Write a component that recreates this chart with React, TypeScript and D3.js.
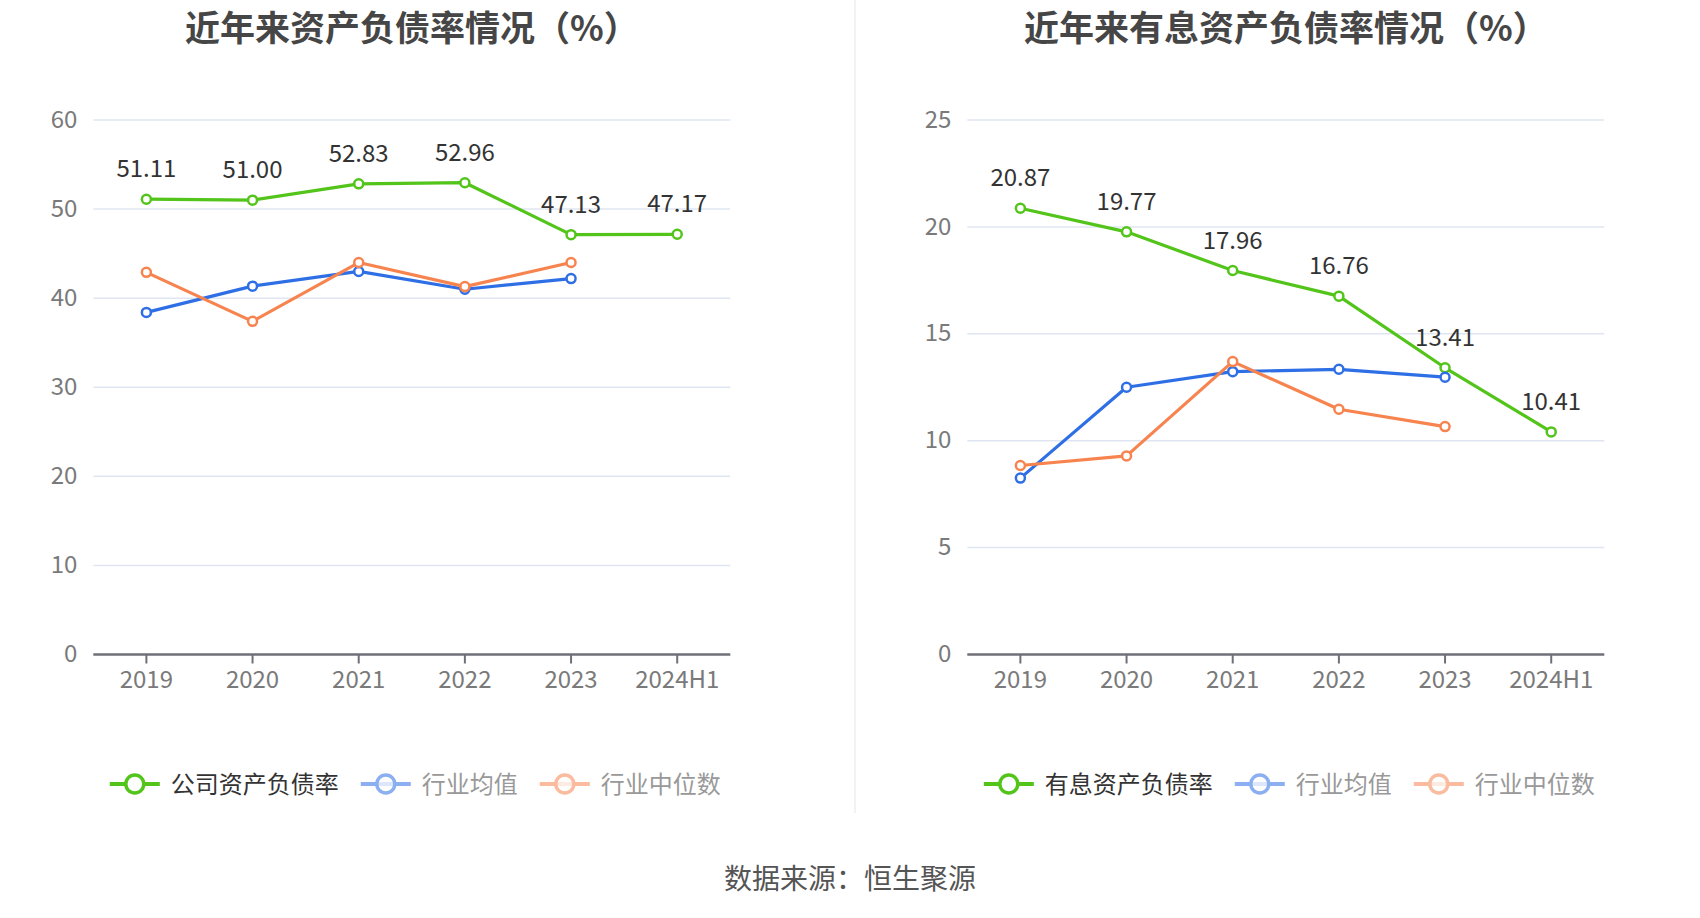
import React from 'react';
import * as d3 from 'd3';

const categories = ['2019', '2020', '2021', '2022', '2023', '2024H1'];

const leftTitle = '近年来资产负债率情况（%）';
const leftCompany = [51.11, 51.0, 52.83, 52.96, 47.13, 47.17];
const leftAvg = [38.4, 41.35, 43.0, 41.0, 42.2, null];
const leftMedian = [42.9, 37.4, 44.0, 41.3, 44.0, null];
const leftTicks = [0, 10, 20, 30, 40, 50, 60];
const leftLegend = ['公司资产负债率', '行业均值', '行业中位数'];

const rightTitle = '近年来有息资产负债率情况（%）';
const rightCompany = [20.87, 19.77, 17.96, 16.76, 13.41, 10.41];
const rightAvg = [8.25, 12.5, 13.23, 13.34, 12.97, null];
const rightMedian = [8.84, 9.29, 13.7, 11.47, 10.66, null];
const rightTicks = [0, 5, 10, 15, 20, 25];
const rightLegend = ['有息资产负债率', '行业均值', '行业中位数'];

const sourceText = '数据来源：恒生聚源';

const GREEN = '#52c41a';
const BLUE = '#2f6fe6';
const ORANGE = '#f7844f';
const FONT = '"Noto Sans CJK SC", "Noto Sans", sans-serif';

type Panel = {
  offset: number;
  title: string;
  company: (number | null)[];
  avg: (number | null)[];
  median: (number | null)[];
  ticks: number[];
  legend: string[];
};

const GRID_L = 93.3;
const GRID_R = 730.3;
const GRID_T = 120;
const GRID_B = 654.5;

function ChartPanel({ p }: { p: Panel }) {
  const x = d3
    .scaleBand<string>()
    .domain(categories)
    .range([GRID_L + p.offset, GRID_R + p.offset]);
  const yMax = p.ticks[p.ticks.length - 1];
  const y = d3.scaleLinear().domain([0, yMax]).range([GRID_B, GRID_T]);
  const cx = (c: string) => (x(c) as number) + x.bandwidth() / 2;
  const line = d3
    .line<number | null>()
    .defined((d) => d !== null)
    .x((_, i) => cx(categories[i]))
    .y((d) => y(d as number));

  const series = [
    { data: p.company, color: GREEN },
    { data: p.avg, color: BLUE },
    { data: p.median, color: ORANGE },
  ];
  const gridCenter = (GRID_L + GRID_R) / 2 + p.offset;

  // legend layout
  const iconW = 50;
  const gapText = 11;
  const gapItem = 22;
  const charW = 24;
  const total =
    p.legend.reduce((s, t) => s + iconW + gapText + t.length * charW, 0) +
    gapItem * (p.legend.length - 1);
  let lx = gridCenter + 3.5 - total / 2;
  const legendItems = p.legend.map((t, i) => {
    const item = { x: lx, text: t, color: series[i].color, active: i === 0 };
    lx += iconW + gapText + t.length * charW + gapItem;
    return item;
  });
  const ly = 784;

  return (
    <g>
      <text
        x={gridCenter}
        y={41}
        textAnchor="middle"
        fontSize={35}
        fontWeight={700}
        fill="#464646"
        fontFamily={FONT}
      >
        {p.title}
      </text>
      {p.ticks.map((t) => (
        <g key={t}>
          {t !== 0 && (
            <line
              x1={GRID_L + p.offset}
              x2={GRID_R + p.offset}
              y1={y(t)}
              y2={y(t)}
              stroke="#e0e6f1"
              strokeWidth={1.5}
            />
          )}
          <text
            x={GRID_L + p.offset - 16}
            y={y(t)}
            dy="0.32em"
            textAnchor="end"
            fontSize={24}
            fill="#7a7a7a"
            fontFamily={FONT}
          >
            {t}
          </text>
        </g>
      ))}
      <line
        x1={GRID_L + p.offset}
        x2={GRID_R + p.offset}
        y1={GRID_B}
        y2={GRID_B}
        stroke="#6e7079"
        strokeWidth={2.5}
      />
      {categories.map((c) => (
        <g key={c}>
          <line x1={cx(c)} x2={cx(c)} y1={GRID_B} y2={GRID_B + 9} stroke="#6e7079" strokeWidth={2} />
          <text
            x={cx(c)}
            y={688}
            textAnchor="middle"
            fontSize={24}
            fill="#7a7a7a"
            fontFamily={FONT}
          >
            {c}
          </text>
        </g>
      ))}
      {series.map((s, si) => (
        <g key={si}>
          <path d={line(s.data) || ''} fill="none" stroke={s.color} strokeWidth={3.2} strokeLinejoin="round" />
          {s.data.map((v, i) =>
            v === null ? null : (
              <circle
                key={i}
                cx={cx(categories[i])}
                cy={y(v)}
                r={4.5}
                fill="#fff"
                stroke={s.color}
                strokeWidth={2.5}
              />
            )
          )}
        </g>
      ))}
      {p.company.map((v, i) =>
        v === null ? null : (
          <text
            key={i}
            x={cx(categories[i])}
            y={y(v) - 22}
            textAnchor="middle"
            fontSize={24}
            fill="#333"
            fontFamily={FONT}
          >
            {v.toFixed(2)}
          </text>
        )
      )}
      {legendItems.map((it, i) => (
        <g key={i} opacity={it.active ? 1 : 0.55}>
          <line x1={it.x} x2={it.x + iconW} y1={ly} y2={ly} stroke={it.color} strokeWidth={4} />
          <circle
            cx={it.x + iconW / 2}
            cy={ly}
            r={9}
            fill="#fff"
            fillOpacity={it.active ? 1 : 0.7}
            stroke={it.color}
            strokeWidth={3.5}
          />
        </g>
      ))}
      {legendItems.map((it, i) => (
        <text
          key={'t' + i}
          x={it.x + iconW + gapText}
          y={ly}
          dy="0.36em"
          fontSize={24}
          fill={it.active ? '#333' : '#999'}
          fontFamily={FONT}
        >
          {it.text}
        </text>
      ))}
    </g>
  );
}

export default function App() {
  const panels: Panel[] = [
    {
      offset: 0,
      title: leftTitle,
      company: leftCompany,
      avg: leftAvg,
      median: leftMedian,
      ticks: leftTicks,
      legend: leftLegend,
    },
    {
      offset: 874,
      title: rightTitle,
      company: rightCompany,
      avg: rightAvg,
      median: rightMedian,
      ticks: rightTicks,
      legend: rightLegend,
    },
  ];
  return (
    <div>
      <style>{`body{margin:0;background:#fff;}`}</style>
      <svg width={1700} height={918} style={{ display: 'block' }}>
        <rect width={1700} height={918} fill="#fff" />
        <line x1={855} x2={855} y1={0} y2={813} stroke="#eeeeee" strokeWidth={1.5} />
        {panels.map((p, i) => (
          <ChartPanel key={i} p={p} />
        ))}
        <text
          x={850}
          y={889}
          textAnchor="middle"
          fontSize={28}
          fill="#555"
          fontFamily={FONT}
        >
          {sourceText}
        </text>
      </svg>
    </div>
  );
}
